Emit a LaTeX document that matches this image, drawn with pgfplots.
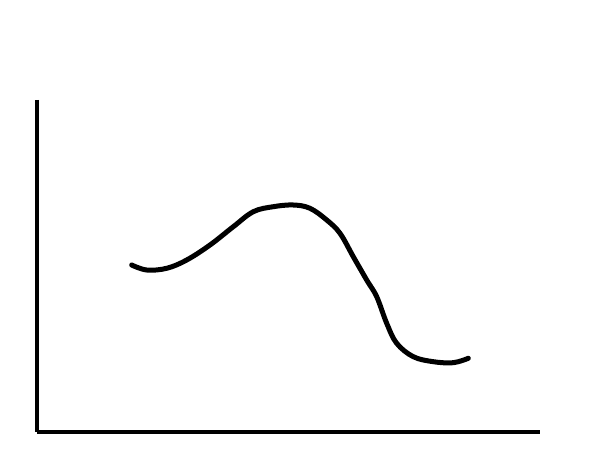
\documentclass[border=0pt]{standalone}
\usepackage{pgfplots}
\pgfplotsset{compat=1.18}

\begin{document}
\begin{tikzpicture}
  % one unit = one pixel of the 600x461 sketch, y counted downwards
  \begin{axis}[
    scale only axis,
    width=362.16pt,
    height=239.04pt,
    xmin=37, xmax=540,
    ymin=100, ymax=432,
    y dir=reverse,
    axis lines=left,
    axis line style={line width=2.2pt, -},
    ticks=none,
    clip=false,
    ]
    \addplot [black, line width=3.6pt, line cap=round, smooth, tension=0.6] coordinates {
      (131.7,265.0)
      (146.7,270.0)
      (166.7,268.3)
      (186.7,260.0)
      (210.0,245.0)
      (233.3,226.7)
      (253.3,211.7)
      (273.3,206.7)
      (293.3,205.0)
      (310.0,208.3)
      (326.7,220.0)
      (340.0,233.3)
      (353.3,256.7)
      (366.7,280.0)
      (376.7,296.7)
      (386.7,323.3)
      (396.7,343.3)
      (413.3,356.7)
      (433.3,361.7)
      (453.3,362.7)
      (468.3,358.3)
    };
    \path (axis cs:0,0) rectangle (axis cs:600,461);
  \end{axis}
\end{tikzpicture}
\end{document}
